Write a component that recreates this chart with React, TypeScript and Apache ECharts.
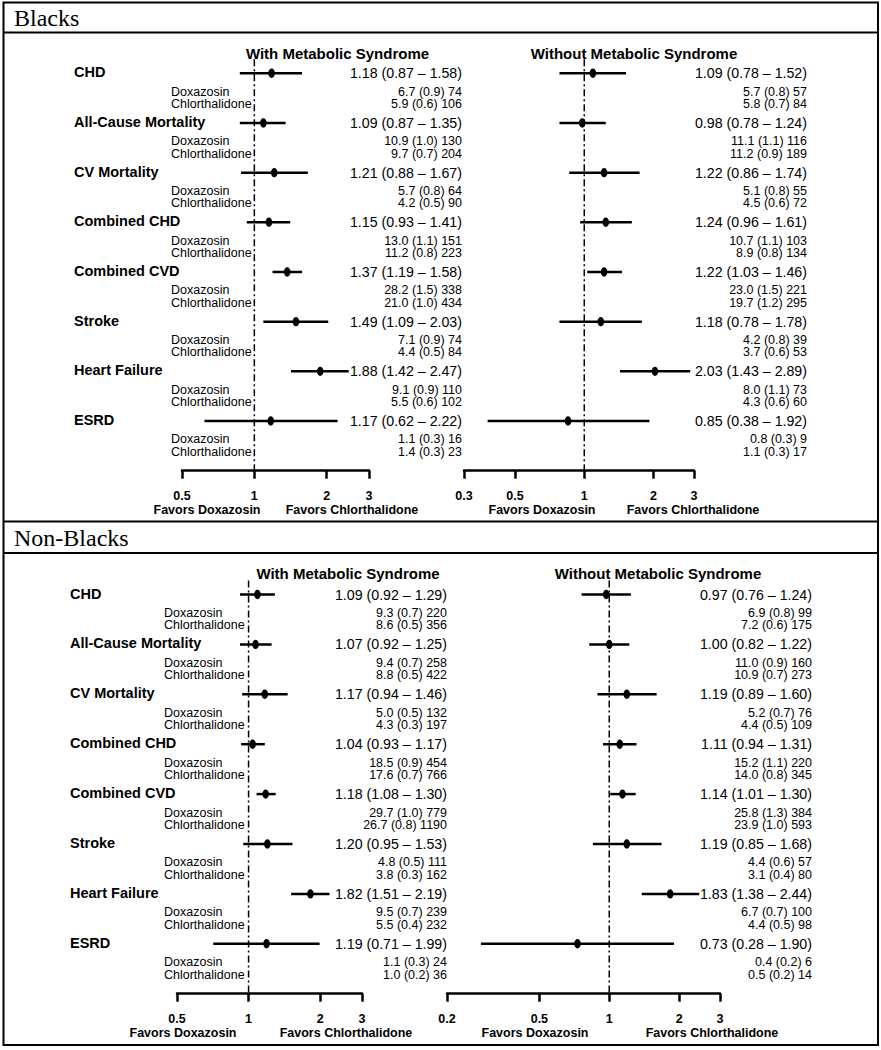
import React, { useEffect, useRef } from "react";
import * as echarts from "echarts";

// ---------- DATA ----------
const outcomes = ["CHD", "All-Cause Mortality", "CV Mortality", "Combined CHD", "Combined CVD", "Stroke", "Heart Failure", "ESRD"];
const drugs = ["Doxazosin", "Chlorthalidone"];
const sections = ["Blacks", "Non-Blacks"];
const subgroups = ["With Metabolic Syndrome", "Without Metabolic Syndrome"];
const favorLabels = ["Favors Doxazosin", "Favors Chlorthalidone"];

// Blacks, with metabolic syndrome
const bWithHR = [1.18, 1.09, 1.21, 1.15, 1.37, 1.49, 1.88, 1.17];
const bWithLo = [0.87, 0.87, 0.88, 0.93, 1.19, 1.09, 1.42, 0.62];
const bWithHi = [1.58, 1.35, 1.67, 1.41, 1.58, 2.03, 2.47, 2.22];
const bWithDox = ["6.7 (0.9) 74", "10.9 (1.0) 130", "5.7 (0.8) 64", "13.0 (1.1) 151", "28.2 (1.5) 338", "7.1 (0.9) 74", "9.1 (0.9) 110", "1.1 (0.3) 16"];
const bWithChl = ["5.9 (0.6) 106", "9.7 (0.7) 204", "4.2 (0.5) 90", "11.2 (0.8) 223", "21.0 (1.0) 434", "4.4 (0.5) 84", "5.5 (0.6) 102", "1.4 (0.3) 23"];
const bWithTicks = [0.5, 1, 2, 3];

// Blacks, without metabolic syndrome
const bWithoutHR = [1.09, 0.98, 1.22, 1.24, 1.22, 1.18, 2.03, 0.85];
const bWithoutLo = [0.78, 0.78, 0.86, 0.96, 1.03, 0.78, 1.43, 0.38];
const bWithoutHi = [1.52, 1.24, 1.74, 1.61, 1.46, 1.78, 2.89, 1.92];
const bWithoutDox = ["5.7 (0.8) 57", "11.1 (1.1) 116", "5.1 (0.8) 55", "10.7 (1.1) 103", "23.0 (1.5) 221", "4.2 (0.8) 39", "8.0 (1.1) 73", "0.8 (0.3) 9"];
const bWithoutChl = ["5.8 (0.7) 84", "11.2 (0.9) 189", "4.5 (0.6) 72", "8.9 (0.8) 134", "19.7 (1.2) 295", "3.7 (0.6) 53", "4.3 (0.6) 60", "1.1 (0.3) 17"];
const bWithoutTicks = [0.3, 0.5, 1, 2, 3];

// Non-Blacks, with metabolic syndrome
const nWithHR = [1.09, 1.07, 1.17, 1.04, 1.18, 1.2, 1.82, 1.19];
const nWithLo = [0.92, 0.92, 0.94, 0.93, 1.08, 0.95, 1.51, 0.71];
const nWithHi = [1.29, 1.25, 1.46, 1.17, 1.3, 1.53, 2.19, 1.99];
const nWithDox = ["9.3 (0.7) 220", "9.4 (0.7) 258", "5.0 (0.5) 132", "18.5 (0.9) 454", "29.7 (1.0) 779", "4.8 (0.5) 111", "9.5 (0.7) 239", "1.1 (0.3) 24"];
const nWithChl = ["8.6 (0.5) 356", "8.8 (0.5) 422", "4.3 (0.3) 197", "17.6 (0.7) 766", "26.7 (0.8) 1190", "3.8 (0.3) 162", "5.5 (0.4) 232", "1.0 (0.2) 36"];
const nWithTicks = [0.5, 1, 2, 3];

// Non-Blacks, without metabolic syndrome
const nWithoutHR = [0.97, 1.0, 1.19, 1.11, 1.14, 1.19, 1.83, 0.73];
const nWithoutLo = [0.76, 0.82, 0.89, 0.94, 1.01, 0.85, 1.38, 0.28];
const nWithoutHi = [1.24, 1.22, 1.6, 1.31, 1.3, 1.68, 2.44, 1.9];
const nWithoutDox = ["6.9 (0.8) 99", "11.0 (0.9) 160", "5.2 (0.7) 76", "15.2 (1.1) 220", "25.8 (1.3) 384", "4.4 (0.6) 57", "6.7 (0.7) 100", "0.4 (0.2) 6"];
const nWithoutChl = ["7.2 (0.6) 175", "10.9 (0.7) 273", "4.4 (0.5) 109", "14.0 (0.8) 345", "23.9 (1.0) 593", "3.1 (0.4) 80", "4.4 (0.5) 98", "0.5 (0.2) 14"];
const nWithoutTicks = [0.2, 0.5, 1, 2, 3];

// ---------- LAYOUT ----------
const SANS = '"Liberation Sans", Arial, Helvetica, sans-serif';
const SERIF = '"Liberation Serif", "Times New Roman", serif';

type Layout = {
  left: number; right: number; top: number; bottom: number;
  hrX: number; labelX?: number; subX?: number;
  titleX: number; titleY: number; favY: number; favDoxX: number; favChlX: number;
};

const panels = [
  { hr: bWithHR, lo: bWithLo, hi: bWithHi, dox: bWithDox, chl: bWithChl, ticks: bWithTicks, title: subgroups[0], labels: true,
    layout: { left: 182, right: 369, top: 23.6, bottom: 470.7, hrX: 462, labelX: 74, subX: 171, titleX: 337.5, titleY: 53, favY: 510, favDoxX: 207, favChlX: 352 } as Layout },
  { hr: bWithoutHR, lo: bWithoutLo, hi: bWithoutHi, dox: bWithoutDox, chl: bWithoutChl, ticks: bWithoutTicks, title: subgroups[1], labels: false,
    layout: { left: 464, right: 694, top: 23.6, bottom: 470.7, hrX: 807, titleX: 634, titleY: 53, favY: 510, favDoxX: 542, favChlX: 693 } as Layout },
  { hr: nWithHR, lo: nWithLo, hi: nWithHi, dox: nWithDox, chl: nWithChl, ticks: nWithTicks, title: subgroups[0], labels: true,
    layout: { left: 177, right: 362, top: 544.6, bottom: 993.7, hrX: 447, labelX: 70, subX: 164, titleX: 348, titleY: 573.5, favY: 1033, favDoxX: 183, favChlX: 346 } as Layout },
  { hr: nWithoutHR, lo: nWithoutLo, hi: nWithoutHi, dox: nWithoutDox, chl: nWithoutChl, ticks: nWithoutTicks, title: subgroups[1], labels: false,
    layout: { left: 447, right: 720, top: 544.6, bottom: 993.7, hrX: 812, titleX: 658, titleY: 573.5, favY: 1033, favDoxX: 535, favChlX: 712 } as Layout },
];

const SUB_OFFSETS = [0.37, 0.62];
const lg = (v: number) => Math.log10(v);
const fmt = (v: number) => v.toFixed(2);

function buildOption() {
  const grid: any[] = [];
  const xAxis: any[] = [];
  const yAxis: any[] = [];
  const series: any[] = [];
  const graphic: any[] = [];

  panels.forEach((p, gi) => {
    const L = p.layout;
    grid.push({ left: L.left, top: L.top, width: L.right - L.left, height: L.bottom - L.top });
    const tickVals = p.ticks.map(lg);
    xAxis.push({
      gridIndex: gi, type: "value", position: "bottom",
      min: lg(p.ticks[0]), max: lg(p.ticks[p.ticks.length - 1]),
      splitLine: { show: false },
      axisLine: { show: true, onZero: false, lineStyle: { color: "#000", width: 2.5 } },
      axisTick: { show: true, length: 8, inside: false, customValues: tickVals, lineStyle: { color: "#000", width: 2.5 } },
      axisLabel: {
        customValues: tickVals, showMinLabel: true, showMaxLabel: true,
        formatter: (v: number) => String(Number(Math.pow(10, v).toPrecision(2))),
        color: "#000", fontWeight: "bold", fontSize: 12.5, fontFamily: SANS, margin: 18.5,
      },
    });
    yAxis.push({ gridIndex: gi, type: "value", min: -1, max: 8, inverse: true, show: false });

    // reference line at HR = 1
    series.push({
      type: "line", xAxisIndex: gi, yAxisIndex: gi, symbol: "none", silent: true,
      data: [[0, -0.28], [0, 8]],
      lineStyle: { color: "#000", width: 1.5, type: [7, 3, 2, 3] }, z: 1,
    });

    const data = outcomes.map((_, i) => [i, lg(p.hr[i]), lg(p.lo[i]), lg(p.hi[i])]);
    series.push({
      type: "custom", xAxisIndex: gi, yAxisIndex: gi, clip: false, silent: true, z: 3,
      encode: { x: [1, 2, 3], y: 0 },
      data,
      renderItem: (params: any, api: any) => {
        const i = params.dataIndex;
        const row = api.value(0);
        const c = api.coord([api.value(1), row]);
        const l = api.coord([api.value(2), row]);
        const h = api.coord([api.value(3), row]);
        const y1 = api.coord([0, row + SUB_OFFSETS[0]])[1];
        const y2 = api.coord([0, row + SUB_OFFSETS[1]])[1];
        const children: any[] = [
          { type: "line", shape: { x1: l[0], y1: l[1], x2: h[0], y2: h[1] }, style: { stroke: "#000", lineWidth: 2.5 } },
          { type: "ellipse", shape: { cx: c[0], cy: c[1], rx: 3.3, ry: 4.7 }, style: { fill: "#000" } },
          { type: "text", x: L.hrX, y: c[1], style: { text: `${fmt(p.hr[i])} (${fmt(p.lo[i])} \u2013 ${fmt(p.hi[i])})`, fill: "#000", font: `14.2px ${SANS}`, align: "right", verticalAlign: "middle" } },
          { type: "text", x: L.hrX, y: y1, style: { text: p.dox[i], fill: "#000", font: `12.5px ${SANS}`, align: "right", verticalAlign: "middle" } },
          { type: "text", x: L.hrX, y: y2, style: { text: p.chl[i], fill: "#000", font: `12.5px ${SANS}`, align: "right", verticalAlign: "middle" } },
        ];
        if (p.labels) {
          children.push(
            { type: "text", x: L.labelX, y: c[1] - 1, style: { text: outcomes[i], fill: "#000", font: `bold 14.5px ${SANS}`, align: "left", verticalAlign: "middle" } },
            { type: "text", x: L.subX, y: y1, style: { text: drugs[0], fill: "#000", font: `12.5px ${SANS}`, align: "left", verticalAlign: "middle" } },
            { type: "text", x: L.subX, y: y2, style: { text: drugs[1], fill: "#000", font: `12.5px ${SANS}`, align: "left", verticalAlign: "middle" } },
          );
        }
        return { type: "group", children };
      },
    });

    graphic.push(
      { type: "text", x: L.titleX, y: L.titleY, style: { text: p.title, fill: "#000", font: `bold 15px ${SANS}`, align: "center", verticalAlign: "middle" } },
      { type: "text", x: L.favDoxX, y: L.favY, style: { text: favorLabels[0], fill: "#000", font: `bold 12.5px ${SANS}`, align: "center", verticalAlign: "middle" } },
      { type: "text", x: L.favChlX, y: L.favY, style: { text: favorLabels[1], fill: "#000", font: `bold 12.5px ${SANS}`, align: "center", verticalAlign: "middle" } },
    );
  });

  // frame & section headers
  graphic.push(
    { type: "rect", shape: { x: 3.5, y: 2.5, width: 874.5, height: 1042.5 }, style: { fill: "none", stroke: "#000", lineWidth: 2 }, z: 10 },
    { type: "line", shape: { x1: 3.5, y1: 32.5, x2: 878, y2: 32.5 }, style: { stroke: "#000", lineWidth: 2 }, z: 10 },
    { type: "line", shape: { x1: 3.5, y1: 521.5, x2: 878, y2: 521.5 }, style: { stroke: "#000", lineWidth: 2 }, z: 10 },
    { type: "line", shape: { x1: 3.5, y1: 553, x2: 878, y2: 553 }, style: { stroke: "#000", lineWidth: 2 }, z: 10 },
    { type: "text", x: 14, y: 17.5, style: { text: sections[0], fill: "#000", font: `24px ${SERIF}`, align: "left", verticalAlign: "middle" } },
    { type: "text", x: 14, y: 538, style: { text: sections[1], fill: "#000", font: `24px ${SERIF}`, align: "left", verticalAlign: "middle" } },
  );

  return {
    animation: false,
    backgroundColor: "#fff",
    grid, xAxis, yAxis, series, graphic,
  };
}

export default function App() {
  const ref = useRef<HTMLDivElement>(null);
  useEffect(() => {
    if (!ref.current) return;
    const chart = echarts.init(ref.current, null, { renderer: "svg" });
    chart.setOption(buildOption() as any);
    return () => chart.dispose();
  }, []);
  return <div ref={ref} style={{ position: "absolute", left: 0, top: 0, width: 881, height: 1050 }} />;
}
